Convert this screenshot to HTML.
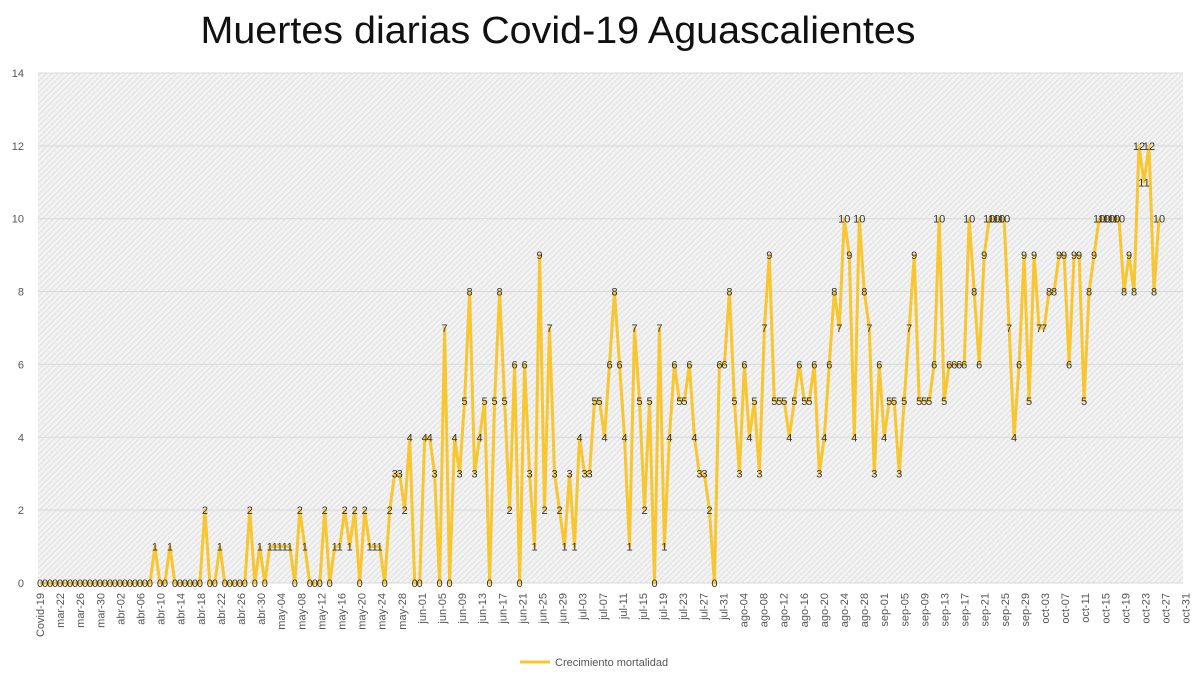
<!DOCTYPE html>
<html><head><meta charset="utf-8"><style>
body{margin:0;background:#fff;}
svg{display:block;font-family:"Liberation Sans",sans-serif;}
</style></head><body>
<svg id="c" width="1200" height="674" xmlns="http://www.w3.org/2000/svg">
<defs><pattern id="h" width="4" height="4" patternUnits="userSpaceOnUse" patternTransform="rotate(45)">
<rect width="4" height="4" fill="#f3f3f3"/><rect width="1.2" height="4" fill="#e2e2e2"/></pattern></defs>
<rect x="0" y="0" width="1200" height="674" fill="#fff"/>
<rect x="38" y="73" width="1145" height="510" fill="url(#h)"/>
<text x="558" y="43" font-size="38" text-anchor="middle" fill="#111" textLength="715" lengthAdjust="spacingAndGlyphs">Muertes diarias Covid-19 Aguascalientes</text>
<g id="g"></g>
<line x1="520" y1="662" x2="550" y2="662" stroke="#f7c630" stroke-width="3"/>
<text x="555" y="666" font-size="11" fill="#555">Crecimiento mortalidad</text>
</svg>
<script>
var g=document.getElementById('g'),s='';
var y0=583,u=36.43;
for(var v=0;v<=14;v+=2){var y=y0-v*u;s+='<line x1="38" x2="1183" y1="'+y+'" y2="'+y+'" stroke="#d8d8d8" stroke-width="1"/>';s+='<text x="24" y="'+(y+4)+'" font-size="11" text-anchor="end" fill="#555">'+v+'</text>';}
var labs=['Covid-19','mar-22','mar-26','mar-30'];
var mn=['abr','may','jun','jul','ago','sep','oct'],ml=[30,31,30,31,31,30,31];
var m=0,d=2;while(m<7){labs.push(mn[m]+'-'+(d<10?'0'+d:d));d+=4;if(d>ml[m]){d-=ml[m];m++;}}
for(var i=0;i<labs.length;i++){var x=40+i*20.1;s+='<text transform="translate('+(x+4)+',593) rotate(-90)" font-size="11" text-anchor="end" fill="#555">'+labs[i]+'</text>';}
var vals=[];for(i=0;i<23;i++)vals.push(0);
vals=vals.concat([1,0,0,1,0,0,0,0,0,0,2,0,0,1,0,0,0,0,0,2,0,1,0,1,1,1,1,1,0,2,1,0,0,0,2,0,1,1,2,1,2,0,2,1,1,1,0,2,3,3,2,4,0,0,4,4,3,0,7,0,4,3,5,8,3,4,5,0,5,8,5,2,6,0,6,3,1,9,2,7,3,2,1,3,1,4,3,3,5,5,4,6,8,6,4,1,7,5,2,5,0,7,1,4,6,5,5,6,4,3,3,2,0,6,6,8,5,3,6,4,5,3,7,9,5,5,5,4,5,6,5,5,6,3,4,6,8,7,10,9,4,10,8,7,3,6,4,5,5,3,5,7,9,5,5,5,6,10,5,6,6,6,6,10,8,6,9,10,10,10,10,7,4,6,9,5,9,7,7,8,8,9,9,6,9,9,5,8,9,10,10,10,10,10,8,9,8,12,11,12,8,10]);
var st=(1159-40)/(vals.length-1),pts=[],t='';
for(i=0;i<vals.length;i++){var x=40+i*st,y=y0-vals[i]*u;pts.push(x.toFixed(1)+','+y.toFixed(1));t+='<text x="'+x.toFixed(1)+'" y="'+(y+4).toFixed(1)+'" font-size="11" text-anchor="middle" fill="#333">'+vals[i]+'</text>';}
s+='<polyline points="'+pts.join(' ')+'" fill="none" stroke="#f7c630" stroke-width="3" stroke-linejoin="round"/>';
g.innerHTML=s+t;
</script>
</body></html>
